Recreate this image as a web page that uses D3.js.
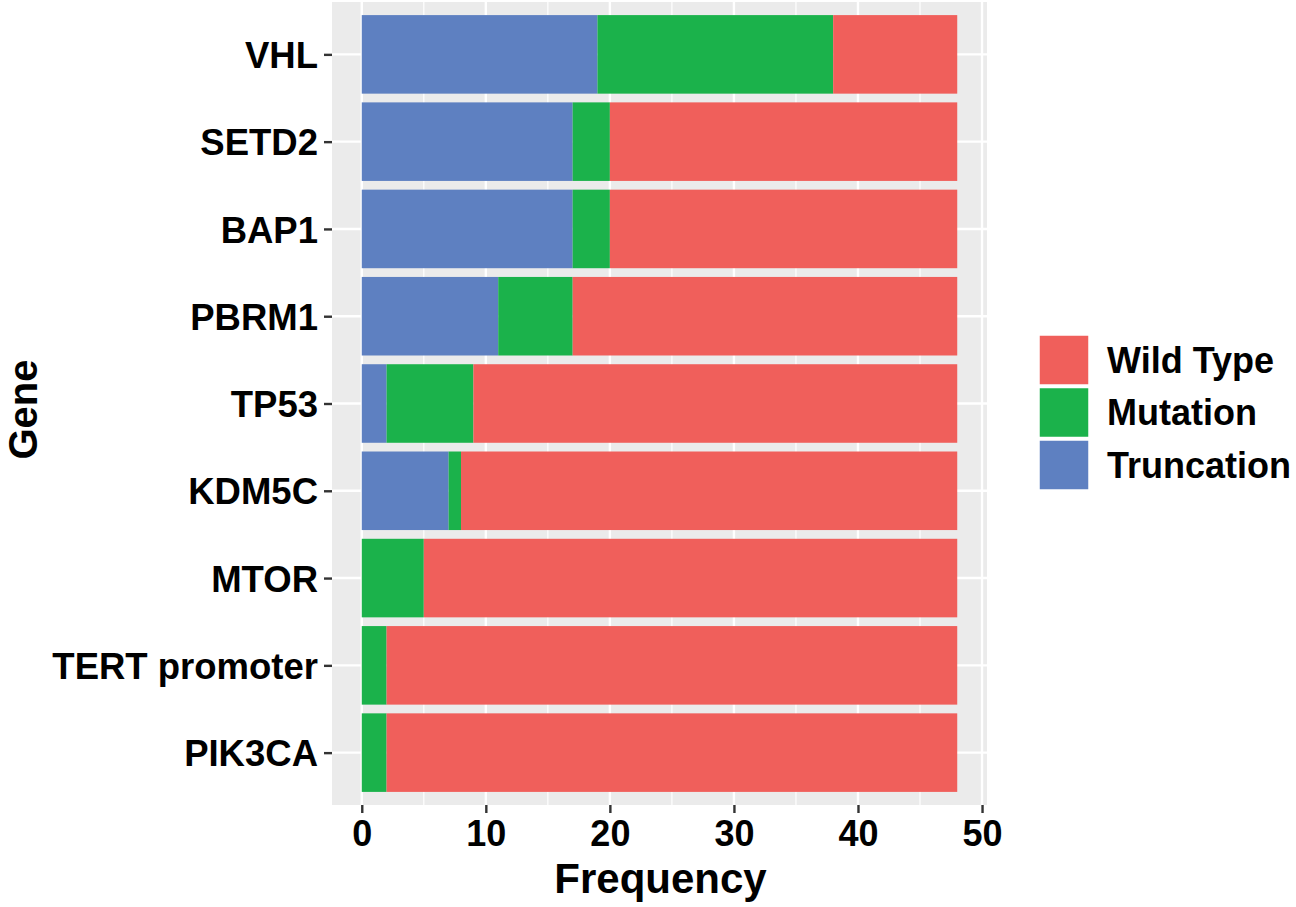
<!DOCTYPE html>
<html>
<head>
<meta charset="utf-8">
<script src="https://cdn.jsdelivr.net/npm/d3@7"></script>
<style>
  body { margin: 0; background: #fff; }
  text { font-family: "Liberation Sans", Arial, sans-serif; font-weight: bold; }
</style>
</head>
<body>
<div id="container"></div>
<script>
// data
var genes = ["VHL", "SETD2", "BAP1", "PBRM1", "TP53", "KDM5C", "MTOR", "TERT promoter", "PIK3CA"];
var truncation = [19, 17, 17, 11, 2, 7, 0, 0, 0];
var mutation   = [19, 3, 3, 6, 7, 1, 5, 2, 2];
var wildType   = [10, 28, 28, 31, 39, 40, 43, 46, 46];
var seriesNames = ["Truncation", "Mutation", "Wild Type"];
var legendOrder = ["Wild Type", "Mutation", "Truncation"];
var xTicks = [0, 10, 20, 30, 40, 50];
var xMinor = [5, 15, 25, 35, 45];

var colors = d3.scaleOrdinal()
  .domain(["Wild Type", "Mutation", "Truncation"])
  .range(["#f05f5b", "#1bb24b", "#5e80c1"]);

var width = 1296, height = 907;
var panel = {left: 332, right: 987, top: 2, bottom: 805};

var svg = d3.select("#container").append("svg")
  .attr("width", width)
  .attr("height", height);

// table for stacking
var rows = genes.map(function(g, i) {
  return {gene: g, "Truncation": truncation[i], "Mutation": mutation[i], "Wild Type": wildType[i]};
});
var stacked = d3.stack().keys(seriesNames)(rows);

// ggplot style expansion: 5% on continuous, 0.6 on discrete
var x = d3.scaleLinear().domain([-2.4, 50.4]).range([panel.left, panel.right]);
var y = d3.scalePoint().domain(genes).range([panel.top, panel.bottom]).padding(0.6);
var barH = y.step() * 0.9;

// panel background + grid
svg.append("rect")
  .attr("x", panel.left).attr("y", panel.top)
  .attr("width", panel.right - panel.left).attr("height", panel.bottom - panel.top)
  .attr("fill", "#ebebeb");

svg.selectAll(".minor").data(xMinor).enter().append("line")
  .attr("x1", d => x(d)).attr("x2", d => x(d))
  .attr("y1", panel.top).attr("y2", panel.bottom)
  .attr("stroke", "#fff").attr("stroke-width", 1.2);

svg.selectAll(".majorx").data(xTicks).enter().append("line")
  .attr("x1", d => x(d)).attr("x2", d => x(d))
  .attr("y1", panel.top).attr("y2", panel.bottom)
  .attr("stroke", "#fff").attr("stroke-width", 2.4);

svg.selectAll(".majory").data(genes).enter().append("line")
  .attr("x1", panel.left).attr("x2", panel.right)
  .attr("y1", d => y(d)).attr("y2", d => y(d))
  .attr("stroke", "#fff").attr("stroke-width", 2.4);

// bars
svg.selectAll(".series").data(stacked).enter().append("g")
  .attr("fill", d => colors(d.key))
  .selectAll("rect").data(d => d).enter().append("rect")
    .attr("x", d => x(d[0]))
    .attr("width", d => x(d[1]) - x(d[0]))
    .attr("y", d => y(d.data.gene) - barH / 2)
    .attr("height", barH);

// axes
var xAxis = svg.append("g")
  .attr("transform", "translate(0," + panel.bottom + ")")
  .call(d3.axisBottom(x).tickValues(xTicks).tickSize(8).tickPadding(6).tickFormat(d3.format("d")));
xAxis.select(".domain").remove();
xAxis.selectAll("line").attr("stroke", "#333").attr("stroke-width", 2.4);
xAxis.selectAll("text").attr("fill", "#000").style("font-size", "36px").attr("dy", "0.75em");

var yAxis = svg.append("g")
  .attr("transform", "translate(" + panel.left + ",0)")
  .call(d3.axisLeft(y).tickSize(8).tickPadding(6));
yAxis.select(".domain").remove();
yAxis.selectAll("line").attr("stroke", "#333").attr("stroke-width", 2.4);
yAxis.selectAll("text").attr("fill", "#000").style("font-size", "36.5px").attr("dy", "0.36em");

// axis titles
svg.append("text")
  .attr("x", (panel.left + panel.right) / 2 + 1)
  .attr("y", 893)
  .attr("text-anchor", "middle")
  .style("font-size", "42px")
  .text("Frequency");

svg.append("text")
  .attr("transform", "translate(37," + ((panel.top + panel.bottom) / 2 + 6) + ") rotate(-90)")
  .attr("text-anchor", "middle")
  .style("font-size", "40px")
  .text("Gene");

// legend
var legend = svg.selectAll(".legend").data(legendOrder).enter().append("g")
  .attr("transform", (d, i) => "translate(1039," + (335 + i * 52.5) + ")");

legend.append("rect")
  .attr("width", 50).attr("height", 50)
  .attr("fill", d => colors(d))
  .attr("stroke", "#fff").attr("stroke-width", 1.5);

legend.append("text")
  .attr("x", 68).attr("y", 25).attr("dy", "0.36em")
  .style("font-size", "36px")
  .text(d => d);
</script>
</body>
</html>
